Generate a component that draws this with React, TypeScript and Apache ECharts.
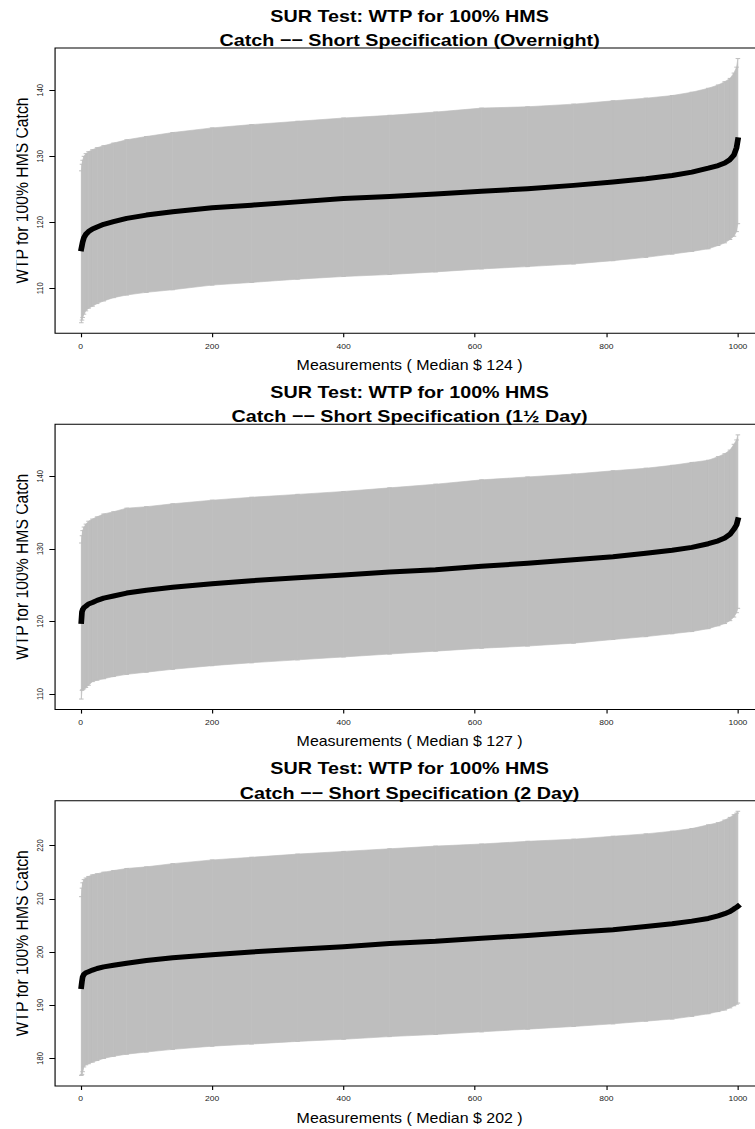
import React, { useEffect, useRef } from "react";
import * as echarts from "echarts";

// Sorted measurement positions that are tabulated for every panel
const measurementIdx = [1, 2, 3, 5, 8, 12, 18, 25, 35, 50, 70, 100, 140, 200, 260, 330, 400, 470, 540, 610, 680, 750, 810, 860, 900, 930, 955, 970, 980, 988, 994, 998, 1000];

// Overnight trip: WTP estimate and interval bounds
const overnightMid = [116.0, 116.5, 117.0, 117.7, 118.2, 118.6, 119.0, 119.3, 119.7, 120.1, 120.6, 121.1, 121.6, 122.2, 122.6, 123.1, 123.6, 123.9, 124.3, 124.7, 125.1, 125.6, 126.1, 126.6, 127.1, 127.6, 128.2, 128.6, 129.0, 129.5, 130.2, 131.3, 132.5];
const overnightLo = [104.8, 105.2, 105.6, 106.1, 106.6, 107.0, 107.3, 107.7, 108.1, 108.6, 109.0, 109.4, 109.8, 110.5, 110.9, 111.4, 111.8, 112.1, 112.5, 112.95, 113.3, 113.7, 114.2, 114.7, 115.2, 115.6, 116.0, 116.5, 116.9, 117.4, 117.9, 118.6, 119.8];
const overnightHi = [127.8, 128.8, 129.4, 130.0, 130.4, 130.7, 131.0, 131.3, 131.6, 132.0, 132.5, 133.0, 133.6, 134.3, 134.8, 135.3, 135.8, 136.2, 136.7, 137.3, 137.5, 137.9, 138.4, 138.8, 139.2, 139.7, 140.3, 140.8, 141.3, 141.8, 142.6, 143.5, 144.8];

// 1½ day trip
const dayHalfMid = [120.0, 121.3, 121.6, 121.9, 122.1, 122.4, 122.6, 122.9, 123.2, 123.5, 123.9, 124.3, 124.7, 125.2, 125.6, 126.0, 126.4, 126.8, 127.1, 127.6, 128.0, 128.5, 128.9, 129.4, 129.8, 130.2, 130.7, 131.1, 131.5, 132.0, 132.7, 133.3, 134.0];
const dayHalfLo = [109.3, 110.5, 110.6, 110.7, 110.9, 111.2, 111.7, 111.9, 112.1, 112.4, 112.7, 113.0, 113.4, 113.9, 114.3, 114.7, 115.1, 115.5, 115.9, 116.3, 116.6, 117.0, 117.5, 117.9, 118.3, 118.6, 119.0, 119.4, 119.7, 120.1, 120.6, 121.2, 121.8];
const dayHalfHi = [130.8, 131.8, 132.5, 133.0, 133.4, 133.8, 134.1, 134.4, 134.8, 135.1, 135.6, 135.8, 136.2, 136.7, 137.1, 137.5, 137.9, 138.4, 138.9, 139.5, 139.9, 140.3, 140.75, 141.1, 141.5, 141.9, 142.2, 142.7, 143.1, 143.6, 144.4, 145.0, 145.7];

// 2 day trip
const twoDayMid = [193.5, 194.5, 195.3, 195.8, 196.1, 196.3, 196.6, 196.9, 197.2, 197.5, 197.9, 198.4, 198.9, 199.5, 200.0, 200.5, 201.0, 201.6, 202.0, 202.6, 203.1, 203.7, 204.2, 204.8, 205.3, 205.8, 206.3, 206.8, 207.2, 207.6, 208.1, 208.4, 208.6];
const twoDayLo = [176.8, 177.0, 177.5, 178.4, 178.8, 179.0, 179.3, 179.6, 180.0, 180.4, 180.8, 181.2, 181.7, 182.3, 182.7, 183.2, 183.6, 184.1, 184.5, 185.0, 185.5, 186.0, 186.5, 187.0, 187.4, 187.9, 188.4, 188.8, 189.1, 189.5, 189.9, 190.2, 190.4];
const twoDayHi = [210.4, 212.0, 213.0, 213.6, 213.9, 214.2, 214.5, 214.7, 215.0, 215.3, 215.7, 216.0, 216.6, 217.3, 217.8, 218.4, 218.9, 219.4, 219.9, 220.3, 220.8, 221.2, 221.75, 222.2, 222.7, 223.2, 223.9, 224.3, 224.8, 225.3, 225.8, 226.1, 226.45];

const xTicks = [0, 200, 400, 600, 800, 1000];
const overnightTicks = [110, 120, 130, 140];
const dayHalfTicks = [110, 120, 130, 140];
const twoDayTicks = [180, 190, 200, 210, 220];

const titleLine1 = "SUR Test: WTP for 100% HMS";
const subtitles = [
  "Catch \u2212\u2212 Short Specification (Overnight)",
  "Catch \u2212\u2212 Short Specification (1\u00bd Day)",
  "Catch \u2212\u2212 Short Specification (2 Day)",
];
const medianLabels = [124, 127, 202];
const yName = "WTP for 100% HMS Catch";

const series3 = [
  { mid: overnightMid, lo: overnightLo, hi: overnightHi, ticks: overnightTicks },
  { mid: dayHalfMid, lo: dayHalfLo, hi: dayHalfHi, ticks: dayHalfTicks },
  { mid: twoDayMid, lo: twoDayLo, hi: twoDayHi, ticks: twoDayTicks },
];

// layout (chart units; the chart is stretched horizontally by STRETCH)
const STRETCH = 1.14;
const CHART_W = 690;
const CHART_H = 1129;
const GRID_LEFT = 48.3;
const GRID_W = 622;
const GRID_TOPS = [48, 424.3, 800.7];
const GRID_H = 285.3;
const Y_LABEL_GAP = 12.8;
const LEFT_CLIP = 14.5; // the device edge cuts the y title's cap tops
const FONT = "'Liberation Sans', Arial, Helvetica, sans-serif";
const BAND = "#bebebe";

// R-style 4% padded range
function padRange(lo: number[], hi: number[]) {
  const a = Math.min(...lo);
  const b = Math.max(...hi);
  const p = (b - a) * 0.04;
  return [a - p, b + p];
}

const xRange = padRange(measurementIdx, measurementIdx);
const plain = (v: number) => String(Math.round(v));

function buildOption() {
  const grid: any[] = [];
  const xAxis: any[] = [];
  const yAxis: any[] = [];
  const series: any[] = [];
  const graphic: any[] = [];
  const cx = GRID_LEFT + GRID_W / 2;

  series3.forEach((p, k) => {
    const yr = padRange(p.lo, p.hi);
    const top = GRID_TOPS[k];
    grid.push({
      left: GRID_LEFT, top, width: GRID_W, height: GRID_H,
      show: true, borderColor: "#000", borderWidth: 1, backgroundColor: "transparent",
    });
    xAxis.push({
      type: "value", gridIndex: k, min: xRange[0], max: xRange[1], position: "bottom",
      axisLine: { show: false, onZero: false }, splitLine: { show: false },
      axisTick: { show: true, length: 4, lineStyle: { color: "#000", width: 1 }, customValues: xTicks },
      axisLabel: { customValues: xTicks, formatter: plain, fontSize: 7.5, color: "#222", margin: 9, fontFamily: FONT },
    });
    yAxis.push({
      type: "value", gridIndex: k, min: yr[0], max: yr[1], position: "left",
      axisLine: { show: false, onZero: false }, splitLine: { show: false },
      axisTick: { show: true, length: 5, lineStyle: { color: "#000", width: 1 }, customValues: p.ticks },
      axisLabel: { show: false },
    });

    const lo = p.lo, hi = p.hi;
    series.push({
      type: "custom", xAxisIndex: k, yAxisIndex: k, silent: true, z: 2,
      data: measurementIdx.map((x, i) => [x, lo[i], hi[i]]),
      renderItem: (params: any, api: any) => {
        const i = params.dataIndex;
        const a = api.coord([measurementIdx[i], lo[i]]);
        const b = api.coord([measurementIdx[i], hi[i]]);
        const children: any[] = [];
        if (i < measurementIdx.length - 1) {
          const c = api.coord([measurementIdx[i + 1], hi[i + 1]]);
          const d = api.coord([measurementIdx[i + 1], lo[i + 1]]);
          children.push({
            type: "polygon",
            shape: { points: [a, b, c, d] },
            style: { fill: BAND, stroke: BAND, lineWidth: 0.6 },
          });
        }
        children.push({ type: "line", shape: { x1: a[0] - 2, y1: a[1], x2: a[0] + 2, y2: a[1] }, style: { stroke: BAND, lineWidth: 1 } });
        children.push({ type: "line", shape: { x1: b[0] - 2, y1: b[1], x2: b[0] + 2, y2: b[1] }, style: { stroke: BAND, lineWidth: 1 } });
        return { type: "group", children };
      },
    });
    series.push({
      type: "line", xAxisIndex: k, yAxisIndex: k, silent: true, z: 3,
      data: measurementIdx.map((x, i) => [x, p.mid[i]]),
      symbol: "none",
      lineStyle: { color: "#000", width: 5, cap: "square", join: "round" },
    });

    graphic.push(
      { type: "text", x: cx, y: top - 32.5, style: { text: titleLine1, font: `bold 17.3px ${FONT}`, fill: "#000", textAlign: "center", textVerticalAlign: "middle" } },
      { type: "text", x: cx, y: top - 8, style: { text: subtitles[k], font: `bold 17.3px ${FONT}`, fill: "#000", textAlign: "center", textVerticalAlign: "middle" } },
      { type: "text", x: cx, y: top + GRID_H + 31.5, style: { text: `Measurements ( Median $ ${medianLabels[k]} )`, font: `14px ${FONT}`, fill: "#000", textAlign: "center", textVerticalAlign: "middle" } },
      { type: "text", x: 19.2, y: top + GRID_H / 2, rotation: Math.PI / 2, z: 1, style: { text: yName, font: `15.7px ${FONT}`, fill: "#000", textAlign: "center", textVerticalAlign: "middle" } },
    );
  });
  graphic.push({ type: "rect", z: 50, shape: { x: 0, y: 0, width: LEFT_CLIP, height: CHART_H }, style: { fill: "#fff" } });

  return { animation: false, backgroundColor: "#fff", grid, xAxis, yAxis, series, graphic };
}

export default function App() {
  const ref = useRef<HTMLDivElement>(null);
  useEffect(() => {
    if (!ref.current) return;
    const chart = echarts.init(ref.current, undefined, { renderer: "svg" });
    const option: any = buildOption();
    chart.setOption(option);
    // vertical tick labels placed at the y scale's tick positions
    const tickLabels: any[] = [];
    series3.forEach((p, k) => {
      p.ticks.forEach((t) => {
        const pt = chart.convertToPixel({ gridIndex: k } as any, [xRange[0], t]) as number[];
        tickLabels.push({
          type: "text", x: pt[0] - Y_LABEL_GAP, y: pt[1], rotation: Math.PI / 2,
          style: { text: plain(t), font: `7.5px ${FONT}`, fill: "#222", textAlign: "center", textVerticalAlign: "middle" },
        });
      });
    });
    chart.setOption({ graphic: [...option.graphic, ...tickLabels] });
    return () => chart.dispose();
  }, []);
  return (
    <div style={{ position: "absolute", left: 0, top: 0, width: 755, height: CHART_H, overflow: "hidden", background: "#fff" }}>
      <div
        ref={ref}
        style={{ width: CHART_W, height: CHART_H, transform: `scaleX(${STRETCH})`, transformOrigin: "0 0" }}
      />
    </div>
  );
}
